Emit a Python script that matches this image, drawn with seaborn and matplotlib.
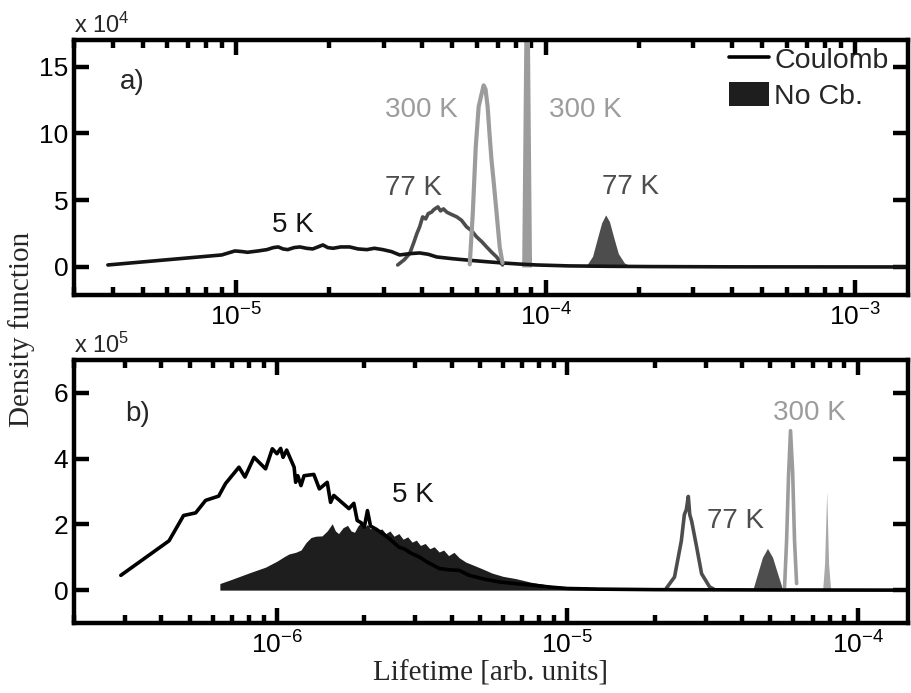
import matplotlib
matplotlib.use("Agg")
import matplotlib.pyplot as plt
from matplotlib.lines import Line2D
from matplotlib.patches import Patch
from matplotlib.ticker import LogLocator, NullFormatter, FixedLocator, FixedFormatter
import pandas as pd
import seaborn as sns

# ---------------- panel a) : density in units of 1e4 ----------------
coul5_a_t = [3.86e-6, 9.0e-6, 9.93e-6, 1.05e-5, 1.09e-5, 1.18e-5, 1.26e-5, 1.32e-5, 1.37e-5,
             1.42e-5, 1.47e-5, 1.54e-5, 1.61e-5, 1.69e-5, 1.77e-5, 1.84e-5, 1.91e-5, 1.98e-5,
             2.06e-5, 2.18e-5, 2.33e-5, 2.48e-5, 2.65e-5, 2.80e-5, 2.98e-5, 3.18e-5, 3.38e-5,
             3.65e-5, 3.92e-5, 4.18e-5, 4.45e-5, 5.0e-5, 5.69e-5, 6.4e-5, 7.26e-5, 8.2e-5,
             9.35e-5, 1.19e-4, 1.6e-4, 2.16e-4, 4.0e-4, 1.48e-3]
coul5_a_v = [0.15, 0.9, 1.2, 1.15, 1.1, 1.2, 1.3, 1.45, 1.5, 1.35, 1.3, 1.45, 1.5, 1.4, 1.35,
             1.5, 1.65, 1.45, 1.4, 1.5, 1.5, 1.35, 1.3, 1.4, 1.3, 1.15, 0.9, 1.0, 1.05, 0.95,
             0.75, 0.62, 0.5, 0.4, 0.3, 0.22, 0.15, 0.08, 0.05, 0.03, 0.01, 0.0]

coul77_a_t = [3.33e-5, 3.50e-5, 3.64e-5, 3.75e-5, 3.84e-5, 3.92e-5, 4.01e-5, 4.10e-5, 4.18e-5,
              4.28e-5, 4.36e-5, 4.49e-5, 4.58e-5, 4.68e-5, 4.80e-5, 4.95e-5, 5.17e-5, 5.35e-5,
              5.56e-5, 5.78e-5, 5.99e-5, 6.22e-5, 6.45e-5, 6.70e-5, 6.95e-5, 7.26e-5]
coul77_a_v = [0.15, 0.55, 1.0, 1.8, 2.5, 3.0, 3.75, 3.6, 4.0, 4.1, 4.3, 4.5, 4.2, 4.35, 4.1,
              3.95, 3.75, 3.5, 3.0, 2.7, 2.25, 1.9, 1.5, 1.1, 0.75, 0.15]

coul300_a_t = [5.69e-5, 5.82e-5, 5.95e-5, 6.08e-5, 6.22e-5, 6.31e-5, 6.40e-5, 6.50e-5, 6.59e-5,
               6.69e-5, 6.79e-5, 6.95e-5, 7.11e-5, 7.26e-5]
coul300_a_v = [0.2, 4.0, 9.0, 12.0, 13.0, 13.6, 13.3, 12.0, 10.0, 8.0, 6.5, 4.0, 1.5, 0.3]

nocb300_a_t = [8.37e-5, 8.69e-5, 9.01e-5]
nocb300_a_v = [0.0, 40.0, 0.0]

nocb77_a_t = [1.355e-4, 1.418e-4, 1.472e-4, 1.517e-4, 1.563e-4, 1.608e-4, 1.656e-4, 1.718e-4,
              1.797e-4, 1.893e-4]
nocb77_a_v = [0.1, 0.8, 2.2, 3.3, 3.9, 3.4, 2.3, 1.0, 0.3, 0.05]

# ---------------- panel b) : density in units of 1e5 ----------------
coul5_b_t = [2.9e-7, 4.25e-7, 4.77e-7, 5.25e-7, 5.68e-7, 6.3e-7, 6.65e-7, 7.4e-7, 7.76e-7,
             8.34e-7, 9.14e-7, 9.64e-7, 1.0e-6, 1.03e-6, 1.05e-6, 1.08e-6, 1.146e-6, 1.16e-6,
             1.18e-6, 1.21e-6, 1.24e-6, 1.34e-6, 1.40e-6, 1.49e-6, 1.53e-6, 1.57e-6, 1.77e-6,
             1.84e-6, 1.89e-6, 1.95e-6, 2.0e-6, 2.05e-6, 2.1e-6, 2.2e-6, 2.31e-6, 2.45e-6,
             2.63e-6, 2.75e-6, 2.9e-6, 3.09e-6, 3.3e-6, 3.62e-6, 3.9e-6, 4.25e-6, 4.59e-6,
             5.2e-6, 5.83e-6, 6.6e-6, 7.6e-6, 8.8e-6, 1.0e-5, 1.3e-5, 2.0e-5, 5.0e-5, 1.49e-4]
coul5_b_v = [0.45, 1.5, 2.27, 2.35, 2.73, 2.86, 3.24, 3.74, 3.44, 4.04, 3.69, 4.30, 4.15, 4.31,
             4.04, 4.26, 3.74, 3.28, 3.48, 3.18, 3.48, 3.52, 3.08, 3.28, 2.67, 2.88, 2.48, 2.64,
             2.12, 2.05, 1.92, 2.42, 1.95, 1.85, 1.72, 1.55, 1.31, 1.25, 1.12, 1.01, 0.85, 0.66,
             0.62, 0.60, 0.45, 0.33, 0.25, 0.20, 0.15, 0.09, 0.05, 0.03, 0.015, 0.005, 0.0]

nocb5_b_t = [6.36e-7, 7.0e-7, 8.0e-7, 9.14e-7, 1.00e-6, 1.06e-6, 1.10e-6, 1.16e-6, 1.21e-6,
             1.26e-6, 1.31e-6, 1.36e-6, 1.43e-6, 1.49e-6, 1.55e-6, 1.59e-6, 1.63e-6, 1.69e-6,
             1.75e-6, 1.80e-6, 1.85e-6, 1.90e-6, 1.95e-6, 2.00e-6, 2.05e-6, 2.10e-6, 2.16e-6,
             2.22e-6, 2.30e-6, 2.37e-6, 2.45e-6, 2.53e-6, 2.63e-6, 2.72e-6, 2.82e-6, 2.92e-6,
             3.02e-6, 3.12e-6, 3.24e-6, 3.36e-6, 3.48e-6, 3.62e-6, 3.75e-6, 3.90e-6, 4.07e-6,
             4.25e-6, 4.48e-6, 4.75e-6, 5.09e-6, 5.50e-6, 6.00e-6, 6.65e-6, 7.50e-6, 8.67e-6,
             1.00e-5, 1.25e-5, 1.50e-5, 2.00e-5]
nocb5_b_v = [0.20, 0.33, 0.52, 0.70, 0.88, 1.02, 1.10, 1.15, 1.22, 1.45, 1.60, 1.64, 1.65, 1.80,
             2.02, 1.80, 1.72, 1.90, 1.97, 1.80, 1.76, 1.95, 2.07, 1.90, 2.00, 1.86, 1.95, 1.82,
             1.86, 1.72, 1.80, 1.64, 1.72, 1.55, 1.62, 1.46, 1.52, 1.36, 1.42, 1.26, 1.32, 1.16,
             1.22, 1.05, 1.15, 0.98, 0.85, 0.76, 0.65, 0.52, 0.42, 0.35, 0.24, 0.15, 0.10, 0.05,
             0.03, 0.0]

coul77_b_t = [2.19e-5, 2.34e-5, 2.47e-5, 2.53e-5, 2.57e-5, 2.61e-5, 2.64e-5, 2.68e-5, 2.79e-5,
              2.90e-5, 3.09e-5, 3.21e-5]
coul77_b_v = [0.05, 0.4, 1.5, 2.3, 2.45, 2.85, 2.3, 2.1, 1.3, 0.5, 0.1, 0.02]

nocb77_b_t = [4.35e-5, 4.52e-5, 4.70e-5, 4.89e-5, 5.09e-5, 5.30e-5, 5.50e-5]
nocb77_b_v = [0.0, 0.5, 1.0, 1.27, 1.0, 0.5, 0.05]

coul300_b_t = [5.60e-5, 5.69e-5, 5.78e-5, 5.87e-5, 5.97e-5, 6.06e-5, 6.16e-5]
coul300_b_v = [0.1, 1.5, 3.5, 4.85, 3.6, 1.5, 0.2]

nocb300_b_t = [7.57e-5, 7.69e-5, 7.82e-5, 7.94e-5, 8.07e-5]
nocb300_b_v = [0.0, 0.8, 3.0, 0.8, 0.0]

C5, C77, C300 = "#141414", "#4d4d4d", "#9c9c9c"
LW = 2.6

sns.set_style("ticks")
plt.rcParams["font.family"] = ["Liberation Sans", "DejaVu Sans"]
plt.rcParams["mathtext.default"] = "regular"
plt.rcParams["axes.linewidth"] = 3.2
plt.rcParams["axes.edgecolor"] = "black"
plt.rcParams["xtick.color"] = "black"
plt.rcParams["ytick.color"] = "black"

fig = plt.figure(figsize=(9.12, 6.93), dpi=100)
ax_a = fig.add_axes([0.0811, 0.5743, 0.9145, 0.368])
ax_b = fig.add_axes([0.0811, 0.1010, 0.9145, 0.3795])


def line(ax, t, v, color, lw=LW):
    sns.lineplot(data=pd.DataFrame({"t": t, "v": v}), x="t", y="v", ax=ax, color=color,
                 lw=lw, estimator=None, sort=False, legend=False)


def fill(ax, t, v, color):
    ax.fill_between(t, 0, v, color=color, lw=0, zorder=1.5)


# panel a)
fill(ax_a, nocb77_a_t, nocb77_a_v, C77)
line(ax_a, coul77_a_t, coul77_a_v, C77)
line(ax_a, coul5_a_t, coul5_a_v, C5)
line(ax_a, coul300_a_t, coul300_a_v, C300, lw=3.0)
fill(ax_a, nocb300_a_t, nocb300_a_v, C300)

# panel b)
fill(ax_b, nocb5_b_t, nocb5_b_v, "#1e1e1e")
fill(ax_b, nocb77_b_t, nocb77_b_v, C77)
fill(ax_b, nocb300_b_t, nocb300_b_v, "#a8a8a8")
line(ax_b, coul77_b_t, coul77_b_v, C77)
line(ax_b, coul300_b_t, coul300_b_v, C300)
line(ax_b, coul5_b_t, coul5_b_v, "black")

ax_a.set_xscale("log")
ax_b.set_xscale("log")
ax_a.set_xlim(3.0e-6, 1.48e-3)
ax_a.set_ylim(-2.1, 17.0)
ax_b.set_xlim(2.0e-7, 1.49e-4)
ax_b.set_ylim(-1.0, 7.0)

yt_a = [0, 5, 10, 15]
yt_b = [0, 2, 4, 6]
for ax, yt in ((ax_a, yt_a), (ax_b, yt_b)):
    ax.set_xlabel("")
    ax.set_ylabel("")
    ax.yaxis.set_major_locator(FixedLocator(yt))
    ax.yaxis.set_major_formatter(FixedFormatter([str(v) for v in yt]))
    ax.xaxis.set_major_locator(LogLocator(base=10, numticks=20))
    ax.xaxis.set_minor_locator(LogLocator(base=10, subs=range(2, 10), numticks=20))
    ax.xaxis.set_minor_formatter(NullFormatter())
    ax.tick_params(which="both", direction="in", top=True, right=True, width=3.2,
                   color="black")
    ax.tick_params(which="major", length=11, pad=6)
    ax.tick_params(which="minor", length=5.5)
    ax.tick_params(axis="y", labelsize=19, pad=4)
    ax.tick_params(axis="x", labelsize=19, pad=6)
    for s in ax.spines.values():
        s.set_visible(True)
        s.set_linewidth(3.2)
        s.set_color("black")

ax_a.text(0.0, 1.027, r"x 10$^{4}$", transform=ax_a.transAxes, fontsize=17,
          ha="left", va="baseline")
ax_b.text(0.0, 1.027, r"x 10$^{5}$", transform=ax_b.transAxes, fontsize=17,
          ha="left", va="baseline")

TXT = 20
ax_a.text(4.22e-6, 13.3, "a)", fontsize=TXT, ha="left", va="baseline")
ax_a.text(1.53e-5, 2.6, "5 K", fontsize=TXT, color=C5, ha="center", va="baseline")
ax_a.text(3.75e-5, 5.4, "77 K", fontsize=TXT, color=C77, ha="center", va="baseline")
ax_a.text(3.98e-5, 11.25, "300 K", fontsize=TXT, color=C300, ha="center", va="baseline")
ax_a.text(1.345e-4, 11.25, "300 K", fontsize=TXT, color=C300, ha="center", va="baseline")
ax_a.text(1.88e-4, 5.5, "77 K", fontsize=TXT, color=C77, ha="center", va="baseline")

ax_b.text(3.01e-7, 5.15, "b)", fontsize=TXT, ha="left", va="baseline")
ax_b.text(2.94e-6, 2.67, "5 K", fontsize=TXT, color=C5, ha="center", va="baseline")
ax_b.text(3.79e-5, 1.88, "77 K", fontsize=TXT, color=C77, ha="center", va="baseline")
ax_b.text(6.83e-5, 5.18, "300 K", fontsize=TXT, color=C300, ha="center", va="baseline")

handles = [Line2D([], [], color="black", lw=LW), Patch(facecolor="#1e1e1e", edgecolor="none")]
ax_a.legend(handles, ["Coulomb", "No Cb."], loc="upper left", bbox_to_anchor=(0.785, 0.975),
            frameon=False, fontsize=20.5, handlelength=1.4, handleheight=0.95,
            handletextpad=0.2, labelspacing=0.25, borderpad=0, borderaxespad=0)

fig.text(0.024, 0.524, "Density function", rotation=90, ha="center", va="center",
         fontsize=21, family=["Liberation Serif", "DejaVu Serif"])
fig.text(0.538, 0.018, "Lifetime [arb. units]", ha="center", va="baseline",
         fontsize=21, family=["Liberation Serif", "DejaVu Serif"])

fig.savefig("out.png", dpi=100)
